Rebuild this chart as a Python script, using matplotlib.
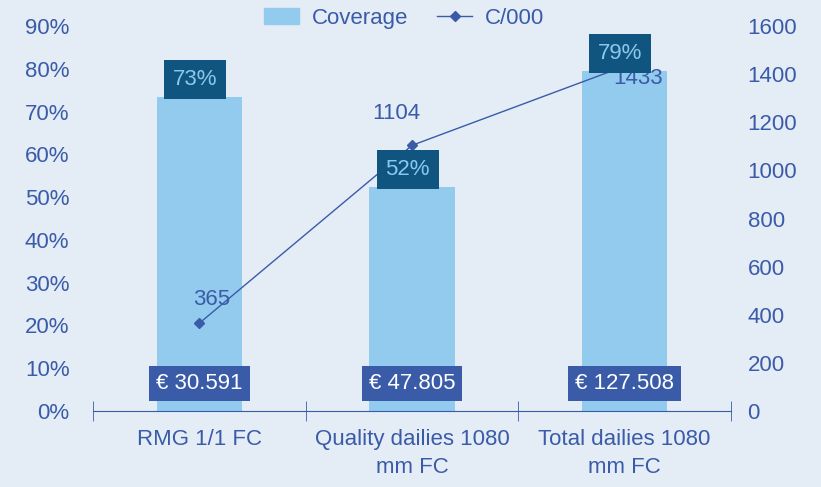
import matplotlib.pyplot as plt
import numpy as np
from matplotlib.lines import Line2D
from matplotlib.patches import Patch

# Data
categories = ["RMG 1/1 FC", "Quality dailies 1080\nmm FC", "Total dailies 1080\nmm FC"]
coverage = [73.4, 52.4, 79.5]
coverage_labels = ["73%", "52%", "79%"]
cost_per_000 = [365, 1104, 1433]
budget_labels = ["€ 30.591", "€ 47.805", "€ 127.508"]

BG = "#E4ECF6"
BAR = "#93CBEE"
DARK = "#0F5580"
BLUE = "#3A5BA8"

plt.rcParams['font.family'] = ['Liberation Sans', 'DejaVu Sans']

fig = plt.figure(figsize=(8.21, 4.87), dpi=100, facecolor=BG)
ax = fig.add_axes([0.1133, 0.156, 0.777, 0.7906])
ax.set_facecolor(BG)
ax2 = ax.twinx()

x = np.arange(len(categories))
ax.bar(x, coverage, width=0.40, color=BAR, zorder=2)
ax.set_xlim(-0.5, 2.5)
ax.set_ylim(0, 90)
ax.set_yticks(range(0, 91, 10))
ax.set_yticklabels([f"{v}%" for v in range(0, 91, 10)])

ax2.plot(x, cost_per_000, color=BLUE, lw=1, marker="D", ms=5, zorder=3)
ax2.set_ylim(0, 1600)
ax2.set_yticks(range(0, 1601, 200))

for a in (ax, ax2):
    for s in a.spines.values():
        s.set_visible(False)
    a.tick_params(axis="y", length=0, labelsize=16, labelcolor=BLUE)
ax.tick_params(axis="y", pad=17)
ax2.tick_params(axis="y", pad=12)

ax.spines["bottom"].set_visible(True)
ax.spines["bottom"].set_color(BLUE)
ax.set_xticks(x)
ax.set_xticklabels(categories, linespacing=1.45)
ax.tick_params(axis="x", length=0, labelsize=16, labelcolor=BLUE, pad=13)
ax.set_xticks([-0.5, 0.5, 1.5, 2.5], minor=True)
ax.tick_params(axis="x", which="minor", direction="inout", length=14, color=BLUE)

# coverage labels above bars
for xi, v, lab in zip(x, coverage, coverage_labels):
    ax2.annotate(lab, (xi - 0.02, v / 90 * 1600), xytext=(0, 5), textcoords="offset points",
                 ha="center", va="bottom", fontsize=16, color="#8CC8EC", zorder=5,
                 bbox=dict(boxstyle="square,pad=0.4", fc=DARK, ec="none"))

# budget labels near base
for xi, lab in zip(x, budget_labels):
    ax2.annotate(lab, (xi, 0), xytext=(0, 20), textcoords="offset points",
                 ha="center", va="center", fontsize=16, color="white", zorder=5,
                 bbox=dict(boxstyle="square,pad=0.32", fc=BLUE, ec="none"))

# line value labels
offsets = [(9, 17), (-11, 23), (10, -9)]
for xi, v, off in zip(x, cost_per_000, offsets):
    ax2.annotate(str(v), (xi, v), xytext=off, textcoords="offset points",
                 ha="center", va="center", fontsize=16, color=BLUE, zorder=4)

handles = [Patch(color=BAR), Line2D([], [], color=BLUE, lw=1, marker="D", ms=5)]
fig.legend(handles, ["Coverage", "C/000"], loc="center", bbox_to_anchor=(0.492, 0.963),
           ncol=2, frameon=False, fontsize=16, labelcolor=BLUE, handlelength=1.6,
           columnspacing=1.3, handletextpad=0.55)

fig.savefig("out.png", dpi=100, facecolor=BG)
